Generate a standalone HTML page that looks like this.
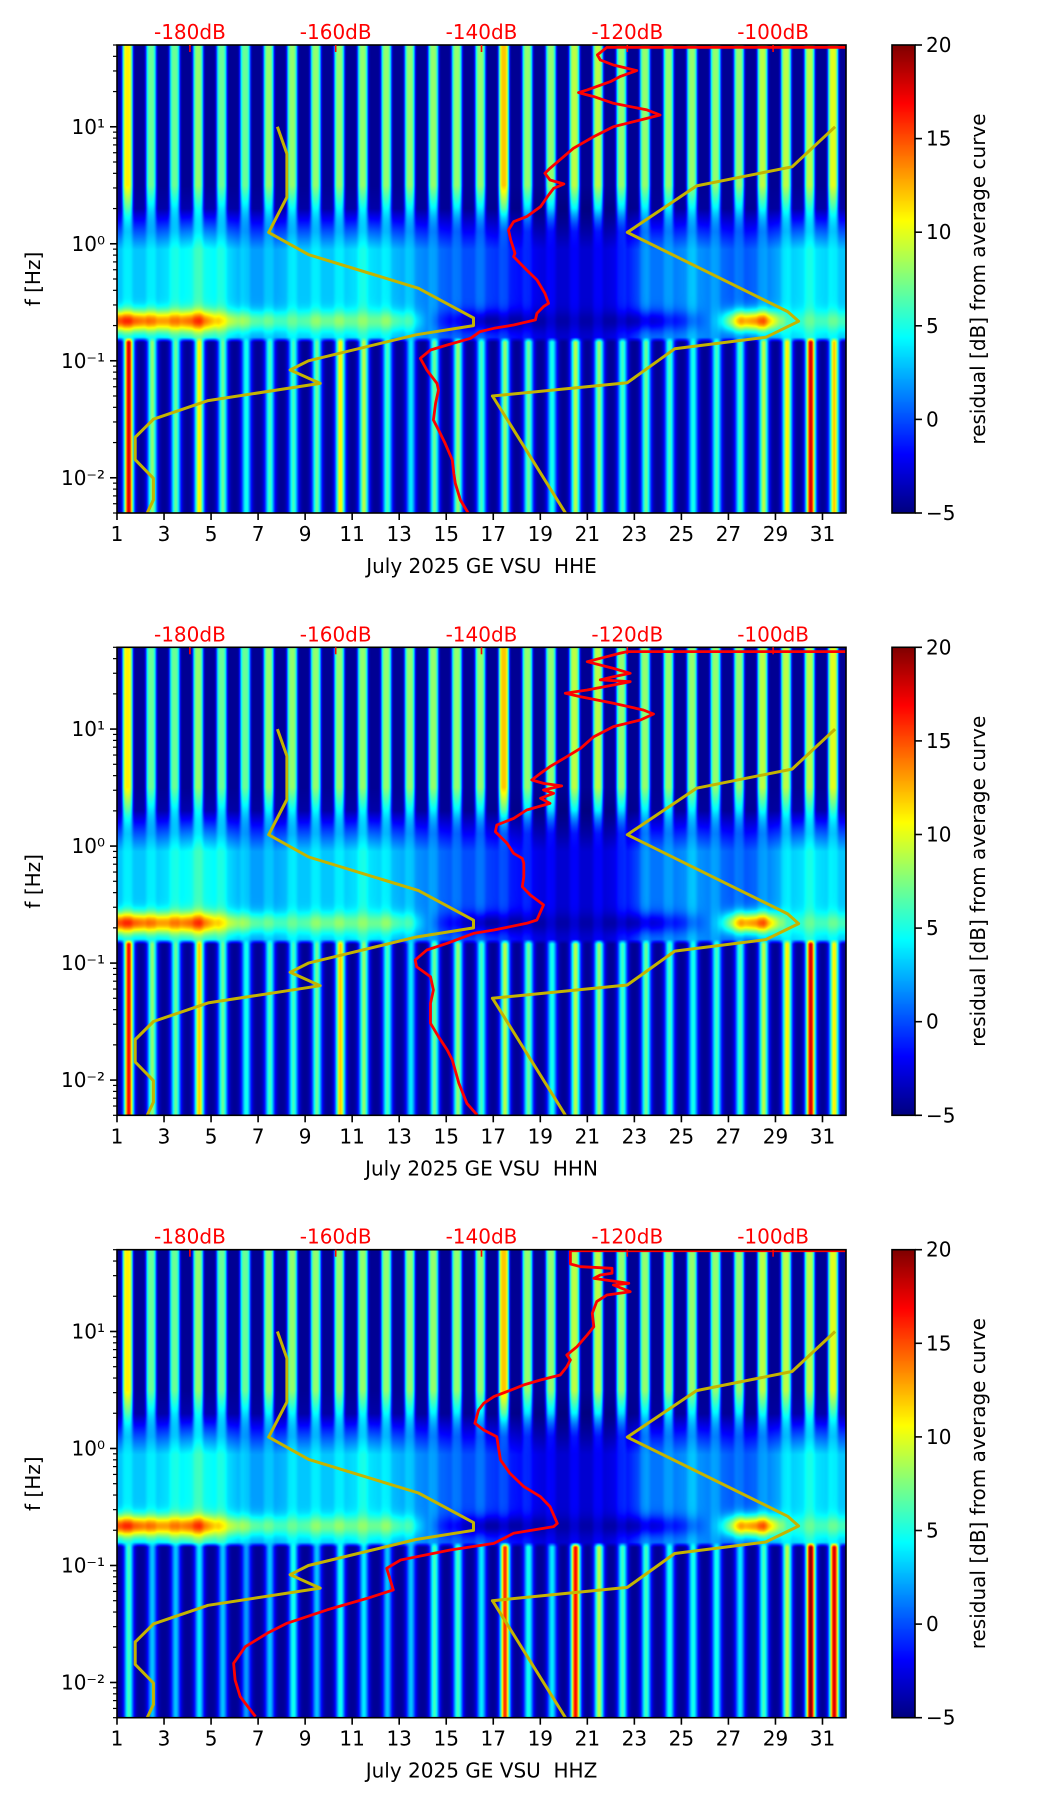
<!DOCTYPE html>
<html><head><meta charset="utf-8">
<style>
html,body{margin:0;padding:0;background:#fff;}
#root{position:relative;width:1052px;height:1806px;overflow:hidden;background:#fff;font-family:"DejaVu Sans","Liberation Sans",sans-serif;}
canvas{position:absolute;}
svg{position:absolute;left:0;top:0;}
</style></head>
<body>
<div id="root">
<canvas id="hm0"></canvas>
<canvas id="hm1"></canvas>
<canvas id="hm2"></canvas>
<canvas id="cb0"></canvas>
<canvas id="cb1"></canvas>
<canvas id="cb2"></canvas>
<svg id="ov" width="1052" height="1806" xmlns="http://www.w3.org/2000/svg"></svg>
</div>
<script>
// ---- data ----
const channels = ["HHE","HHN","HHZ"];
const dbTicks = [-180,-160,-140,-120,-100];
const dayTicks = [1,3,5,7,9,11,13,15,17,19,21,23,25,27,29,31];
const freqDecades = [-2,-1,0,1];
const cbTicks = [-5,0,5,10,15,20];
// per-day heatmap descriptors (days 1..31)
const hiAmp = [11,7,7,8,7,7,8,8,8,8,8,8,8,8,8,8,12,8,8,9,9,8,8,8,8,8,8,9,9,9,10];
const microLvl = [3,3,4,5,4,2,2,3,3,3,4,3,2,1,0,0,-1,-2,-3,-3,-3,-2,1,1,2,1,0,1,3,4,3];
const microPeak = [15,13,13,15,10,7,6,6,7,7,7,7,5,0,-3,-4,-4,-4,-4,-4,-4,-4,-3,-2,0,2,12,14,5,6,6];
const lowE = [18,8,7,11,7,5,6,6,7,11,9,6,4,7,8,6,8,7,5,9,8,6,7,6,5,6,6,9,11,18,12];
const lowN = [17,8,7,12,7,5,6,6,7,12,8,6,4,7,8,6,9,7,5,9,8,6,7,6,5,6,6,9,11,18,11];
const lowZ = [6,3,3,4,3,2,3,5,3,5,4,3,3,6,6,4,16,5,4,17,9,6,6,5,5,5,4,6,9,20,18];
// red average curves: dB and log10(f)
const redE_db = [-90,-122.8,-124.1,-123.7,-121.9,-118.7,-121.0,-122.3,-125.5,-126.7,-124.6,-121.9,-117.3,-115.5,-118.2,-121.9,-124.6,-127.4,-129.0,-130.6,-131.3,-130.6,-128.7,-130.1,-130.8,-131.9,-133.8,-135.6,-136.3,-136.0,-135.4,-135.6,-133.8,-132.4,-131.3,-130.8,-131.5,-132.4,-132.6,-135.6,-138.3,-140.2,-141.5,-144.7,-147.0,-148.4,-147.5,-146.1,-145.9,-146.3,-146.6,-145.9,-145.0,-144.0,-143.8,-143.6,-142.9,-141.8];
const redE_lf = [1.679,1.679,1.614,1.571,1.528,1.480,1.429,1.386,1.315,1.292,1.258,1.201,1.144,1.101,1.058,1.001,0.916,0.816,0.731,0.645,0.602,0.545,0.511,0.474,0.417,0.317,0.232,0.189,0.118,0.033,-0.081,-0.110,-0.224,-0.309,-0.423,-0.509,-0.537,-0.594,-0.651,-0.694,-0.722,-0.751,-0.808,-0.865,-0.908,-0.979,-1.079,-1.193,-1.249,-1.363,-1.506,-1.591,-1.705,-1.848,-1.962,-2.047,-2.190,-2.304];
const redN_db = [-90,-120.0,-121.0,-123.7,-125.5,-121.9,-119.6,-121.9,-123.7,-119.6,-121.9,-125.5,-128.5,-126.4,-121.9,-117.8,-116.4,-118.2,-121.9,-124.6,-126.4,-128.3,-130.6,-131.9,-133.1,-131.5,-129.0,-131.5,-130.1,-131.9,-130.6,-133.8,-135.6,-137.9,-138.1,-136.5,-135.6,-134.4,-134.2,-134.2,-134.4,-133.3,-131.5,-132.4,-133.8,-138.3,-141.1,-144.7,-147.5,-149.1,-148.9,-147.0,-146.6,-147.0,-147.0,-145.9,-144.7,-144.0,-143.1,-142.0,-140.6];
const redN_lf = [1.662,1.662,1.648,1.605,1.576,1.519,1.477,1.448,1.420,1.405,1.377,1.334,1.306,1.277,1.220,1.163,1.129,1.078,1.021,0.935,0.836,0.764,0.679,0.622,0.565,0.536,0.514,0.479,0.451,0.408,0.365,0.308,0.237,0.180,0.123,0.024,-0.062,-0.105,-0.147,-0.261,-0.347,-0.418,-0.503,-0.632,-0.660,-0.717,-0.746,-0.831,-0.888,-0.974,-1.031,-1.116,-1.230,-1.344,-1.515,-1.629,-1.743,-1.828,-2.028,-2.199,-2.298];
const redZ_db = [-90,-127.8,-127.8,-126.4,-122.1,-122.1,-123.7,-124.6,-119.8,-121.9,-119.6,-122.8,-124.2,-124.8,-124.6,-125.5,-126.9,-128.3,-127.8,-128.3,-129.2,-131.9,-134.2,-136.5,-138.3,-139.7,-140.4,-140.9,-139.7,-137.9,-137.7,-137.4,-136.1,-134.2,-131.9,-130.6,-129.6,-130.1,-135.6,-138.3,-144.3,-151.1,-153.0,-152.1,-155.7,-161.2,-166.7,-169.4,-172.4,-174.0,-173.8,-173.1,-171.0];
const redZ_lf = [1.690,1.690,1.577,1.554,1.540,1.497,1.483,1.454,1.412,1.397,1.340,1.312,1.255,1.155,1.041,0.970,0.870,0.799,0.756,0.699,0.628,0.585,0.543,0.486,0.443,0.386,0.329,0.215,0.158,0.101,0.016,-0.098,-0.212,-0.326,-0.412,-0.497,-0.640,-0.668,-0.725,-0.811,-0.868,-0.953,-1.024,-1.209,-1.281,-1.380,-1.494,-1.580,-1.694,-1.836,-1.979,-2.121,-2.292];
// Peterson noise models
const nlnmT=[0.1,0.17,0.4,0.8,1.24,2.4,4.3,5,6,10,12,15.6,21.9,31.6,45,70,101,154,328];
const nlnmA=[-162.36,-166.7,-170,-166.4,-168.6,-159.98,-141.1,-71.36,-97.26,-132.18,-205.27,-37.65,-114.37,-160.58,-187.5,-216.47,-185,-168.34];
const nlnmB=[5.64,0,-8.3,28.9,52.48,29.81,0,-99.77,-66.49,-31.57,36.16,-104.33,-47.1,-16.28,0,15.7,0,-7.61];
const nhnmT=[0.1,0.22,0.32,0.8,3.8,4.6,6.3,7.9,15.4,20,354.8];
const nhnmA=[-108.73,-150.34,-122.31,-116.85,-108.48,-74.66,0.66,-93.37,73.54,-151.52];
const nhnmB=[-17.23,-80.5,-23.87,32.51,18.08,-32.95,-127.18,-22.42,-162.98,10.01];

const lowSets=[lowE,lowN,lowZ];
const redDb=[redE_db,redN_db,redZ_db];
const redLf=[redE_lf,redN_lf,redZ_lf];

// ---- geometry ----
const L=117, R=846, W=R-L, H=468;
const tops=[45,647.3,1249.7];
const LFMAX=Math.log10(50), LFMIN=Math.log10(0.005);
const CBL=892, CBW=23;
function xDay(t){return L+(t-1)/31*W;}
function xDb(db){return L+(db+190)/100*W;}
function yLf(lf,top){return top+(LFMAX-lf)/(LFMAX-LFMIN)*H;}
function clamp(v,a,b){return Math.max(a,Math.min(b,v));}
function jet(x){x=clamp(x,0,1);return [clamp(1.5-Math.abs(4*x-3),0,1)*255,clamp(1.5-Math.abs(4*x-2),0,1)*255,clamp(1.5-Math.abs(4*x-1),0,1)*255];}
function interp(arr,t){let i=t-1.5;if(i<=0)return arr[0];if(i>=arr.length-1)return arr[arr.length-1];const k=Math.floor(i),f=i-k;return arr[k]*(1-f)+arr[k+1]*f;}

// ---- heatmaps ----
for(let p=0;p<3;p++){
  const c=document.getElementById('hm'+p);
  c.width=W;c.height=Math.round(H);c.style.left=L+'px';c.style.top=tops[p]+'px';
  const ctx=c.getContext('2d');const img=ctx.createImageData(c.width,c.height);
  const low=lowSets[p];
  for(let px=0;px<c.width;px++){
    const t=1+(px+0.5)/c.width*31;const di=clamp(Math.floor(t)-1,0,30);const frac=t-Math.floor(t);
    const g=Math.exp(-Math.pow((frac-0.45)/0.22,4));
    const gl=Math.exp(-Math.pow((frac-0.5)/0.2,2));
    const mL=interp(microLvl,t), mP=interp(microPeak,t);
    for(let py=0;py<c.height;py++){
      const lf=LFMAX-(py+0.5)/c.height*(LFMAX-LFMIN);
      const wHi=clamp((lf+0.05)/0.35,0,1), wLow=clamp((-0.8-lf)/0.04,0,1), wMid=Math.max(0,1-wHi-wLow);
      const taper=clamp((lf-0.1)/0.4,0,1);
      const hi=-4.5+(hiAmp[di]+4.5)*g*(0.35+0.65*taper);
      const mid=mL+(mP-mL)*Math.exp(-Math.pow((lf+0.66)/0.09,2))+1*g;
      const lo=-4.5+(low[di]+4.5)*gl;
      const v=wHi*(0.3*mL*(1-taper)+hi)+wMid*mid+wLow*lo;
      const col=jet((v+5)/25);const k=(py*c.width+px)*4;
      img.data[k]=col[0];img.data[k+1]=col[1];img.data[k+2]=col[2];img.data[k+3]=255;
    }
  }
  ctx.putImageData(img,0,0);
  const cb=document.getElementById('cb'+p);
  cb.width=CBW;cb.height=Math.round(H);cb.style.left=CBL+'px';cb.style.top=tops[p]+'px';
  const cc=cb.getContext('2d');
  for(let y=0;y<cb.height;y++){const col=jet(1-(y+0.5)/cb.height);cc.fillStyle='rgb('+col.map(Math.round).join(',')+')';cc.fillRect(0,y,CBW,1);}
}

// ---- overlay ----
const NS='http://www.w3.org/2000/svg';
const ov=document.getElementById('ov');
function el(tag,attrs,parent){const e=document.createElementNS(NS,tag);for(const k in attrs)e.setAttribute(k,attrs[k]);(parent||ov).appendChild(e);return e;}
function modelPts(T,A,B,top){const pts=[];for(let i=0;i<A.length;i++){for(const tt of [T[i],T[i+1]]){const db=A[i]+B[i]*Math.log10(tt);pts.push(xDb(db).toFixed(1)+','+yLf(-Math.log10(tt),top).toFixed(1));}}return pts.join(' ');}
const sup={'-':'\u207B','1':'\u00B9','2':'\u00B2','0':'\u2070'};

for(let p=0;p<3;p++){
  const top=tops[p], bot=top+H;
  const g=el('g',{});
  
  
  const cp=el('clipPath',{id:'clip'+p},g);el('rect',{x:L,y:top,width:W,height:H},cp);
  const lines=el('g',{'clip-path':'url(#clip'+p+')'},g);
  const nl=el('polyline',{points:modelPts(nlnmT,nlnmA,nlnmB,top),fill:'none',stroke:'#c4b400','stroke-width':3,'stroke-linejoin':'round'},lines);
  
  
  const nh=el('polyline',{points:modelPts(nhnmT,nhnmA,nhnmB,top),fill:'none',stroke:'#c4b400','stroke-width':3,'stroke-linejoin':'round'},lines);
  
  
  const rp=redDb[p].map((d,i)=>xDb(d).toFixed(1)+','+yLf(redLf[p][i],top).toFixed(1)).join(' ');
  const red=el('polyline',{points:rp,fill:'none',stroke:'#ff0000','stroke-width':2.8,'stroke-linejoin':'round'},lines);
  
  
  const fr=el('rect',{x:L,y:top,width:W,height:H,fill:'none',stroke:'#000','stroke-width':1.6},g);
  
  
  dbTicks.forEach(db=>{
    const x=xDb(db);
    el('line',{x1:x,y1:top,x2:x,y2:top+7,stroke:'#ff0000','stroke-width':1.6},g);
    const tx=el('text',{x:x,y:top-6,'text-anchor':'middle','font-size':20,fill:'#ff0000'},g);
    tx.textContent=db+'dB';
    
    
  });
  dayTicks.forEach(d=>{
    const x=xDay(d);
    el('line',{x1:x,y1:bot,x2:x,y2:bot+7,stroke:'#000','stroke-width':1.6},g);
    const tx=el('text',{x:x,y:bot+28,'text-anchor':'middle','font-size':20,fill:'#000'},g);
    tx.textContent=String(d);
    
    
  });
  const xl=el('text',{x:(L+R)/2,y:bot+60,'text-anchor':'middle','font-size':20,fill:'#000',style:'white-space:pre'},g);
  xl.textContent='July 2025 GE VSU  '+channels[p];
  
  
  for(let dec=-3;dec<=1;dec++){
    for(let m=1;m<=9;m++){
      const lf=dec+Math.log10(m);
      if(lf<LFMIN-1e-6||lf>LFMAX+1e-6)continue;
      const y=yLf(lf,top);
      el('line',{x1:L,y1:y,x2:L-(m===1?7:4),y2:y,stroke:'#000','stroke-width':m===1?1.6:1.2},g);
    }
  }
  freqDecades.forEach(dec=>{
    const y=yLf(dec,top);
    const tx=el('text',{x:L-12,y:y+7,'text-anchor':'end','font-size':20,fill:'#000'},g);
    tx.textContent='10'+String(dec).split('').map(ch=>sup[ch]).join('');
    
    
  });
  const yl=el('text',{x:0,y:0,'text-anchor':'middle','font-size':20,fill:'#000',transform:'translate(40,'+(top+H/2)+') rotate(-90)'},g);
  yl.textContent='f [Hz]';
  
  
  const cbf=el('rect',{x:CBL,y:top,width:CBW,height:H,fill:'none',stroke:'#000','stroke-width':1.6},g);
  
  
  cbTicks.forEach(v=>{
    const y=top+(20-v)/25*H;
    el('line',{x1:CBL+CBW,y1:y,x2:CBL+CBW+7,y2:y,stroke:'#000','stroke-width':1.6},g);
    const tx=el('text',{x:CBL+CBW+11,y:y+7,'font-size':20,fill:'#000'},g);
    tx.textContent=(v<0?'\u2212'+(-v):String(v));
    
    
  });
  const cl=el('text',{x:0,y:0,'text-anchor':'middle','font-size':20,fill:'#000',transform:'translate(985,'+(top+H/2)+') rotate(-90)'},g);
  cl.textContent='residual [dB] from average curve';
  
  
}
</script>
</body></html>
